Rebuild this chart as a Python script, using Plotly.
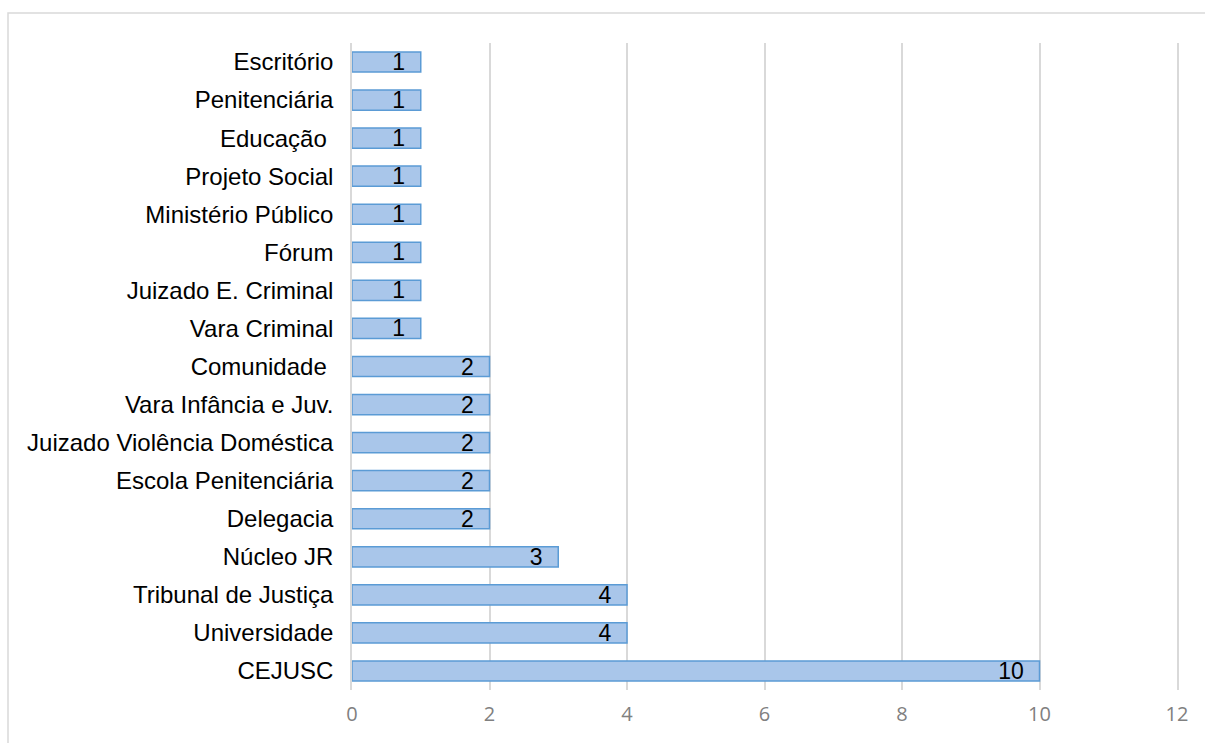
import plotly.graph_objects as go

# Categories listed bottom-to-top as they appear on the vertical axis
categories = [
    "CEJUSC", "Universidade", "Tribunal de Justiça", "Núcleo JR", "Delegacia",
    "Escola Penitenciária", "Juizado Violência Doméstica", "Vara Infância e Juv.",
    "Comunidade\u00a0", "Vara Criminal", "Juizado E. Criminal", "Fórum",
    "Ministério Público", "Projeto Social", "Educação\u00a0", "Penitenciária",
    "Escritório",
]
counts = [10, 4, 4, 3, 2, 2, 2, 2, 2, 1, 1, 1, 1, 1, 1, 1, 1]
x_ticks = [0, 2, 4, 6, 8, 10, 12]

W, H = 1205, 743
ML, MR, MT, MB = 352, 28, 43, 53
pw, ph = W - ML - MR, H - MT - MB

fig = go.Figure(go.Bar(
    x=counts,
    y=list(range(len(categories))),
    orientation="h",
    width=0.53,
    marker=dict(color="#a9c6ea", line=dict(color="#5b9bd5", width=1.5)),
    text=counts,
    texttemplate="%{text}\u00a0\u00a0",
    textposition="inside",
    insidetextanchor="end",
    textangle=0,
    textfont=dict(family="Liberation Sans, Arial", size=23, color="#000000"),
    cliponaxis=False,
))

# Outer chart frame
def px_to_paper_x(px):
    return (px - ML) / pw

def px_to_paper_y(py):
    return (H - MB - py) / ph

fig.add_shape(type="rect", xref="paper", yref="paper",
              x0=px_to_paper_x(8), x1=px_to_paper_x(1215),
              y0=px_to_paper_y(760), y1=px_to_paper_y(13),
              line=dict(color="#d9d9d9", width=1.5), fillcolor="rgba(0,0,0,0)",
              layer="below")

fig.update_layout(
    width=W, height=H,
    margin=dict(l=ML, r=MR, t=MT, b=MB),
    paper_bgcolor="white", plot_bgcolor="white",
    showlegend=False,
    bargap=0.47,
    uniformtext=dict(minsize=23, mode="show"),
    xaxis=dict(
        range=[0, 12], tickvals=x_ticks, ticktext=[str(v) for v in x_ticks],
        showgrid=True, gridcolor="#d9d9d9", gridwidth=1.5,
        zeroline=False, showline=False, ticks="",
        tickfont=dict(family="Open Sans, Liberation Sans", size=20, color="#808080"),
        ticklabelstandoff=10,
    ),
    yaxis=dict(
        range=[-0.5, len(categories) - 0.5],
        tickvals=list(range(len(categories))), ticktext=categories,
        showgrid=False, zeroline=False, ticks="",
        # vertical lines at both ends of the value range (0 and 12)
        showline=True, mirror=True, linecolor="#d9d9d9", linewidth=1.5,
        layer="below traces",
        tickfont=dict(family="Liberation Sans, Arial", size=24, color="#000000"),
        ticklabelstandoff=12,
    ),
)

fig.write_html("out.html")
